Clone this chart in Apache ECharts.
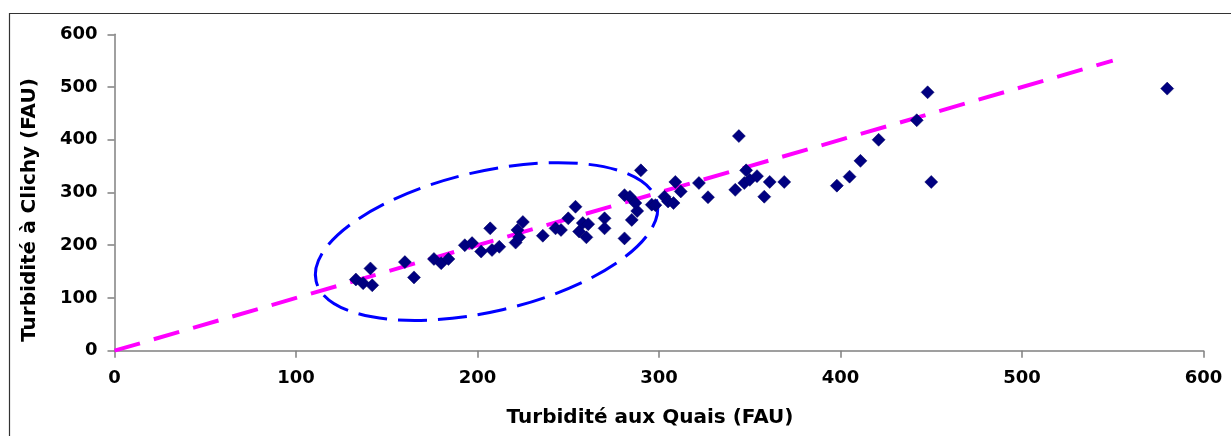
<!DOCTYPE html>
<html>
<head>
<meta charset="utf-8">
<script src="https://cdn.jsdelivr.net/npm/echarts@6/dist/echarts.min.js"></script>
<style>
html,body{margin:0;padding:0;background:#fff;}
#chart{width:1231px;height:436px;}
</style>
</head>
<body>
<div id="chart"></div>
<script>
// Turbidité aux Quais (FAU) vs Turbidité à Clichy (FAU)
const quais = [133,137,141,142,160,165,176,180,184,193,197,202,207,208,212,221,222,223,225,236,243,246,250,254,256,258,261,260,270,270,281,281,284,285,288,287,290,296,298,303,305,308,309,312,322,327,342,344,347,348,350,354,358,361,369,398,405,411,421,442,448,450,580];
const clichy = [135,128,156,124,168,139,174,166,174,200,204,188,232,191,197,205,229,215,244,218,232,229,251,273,226,242,240,215,251,232,213,295,292,248,265,280,342,277,276,292,283,280,320,302,318,291,305,407,318,342,324,331,292,320,320,313,330,360,400,437,490,320,497];
const trendLine = [[0,0],[550,550]];
const ellipseCenter = [[205,207]];
const axisTicks = [0,100,200,300,400,500,600];
const xTitle = 'Turbidité aux Quais (FAU)';
const yTitle = 'Turbidité à Clichy (FAU)';

const points = quais.map((x,i)=>[x, clichy[i]]);
const chart = echarts.init(document.getElementById('chart'), null, {renderer:'canvas'});
const labelFont = {fontFamily:'DejaVu Sans', fontWeight:'bold', fontSize:18, color:'#000'};
const axisColor = '#808080';
chart.setOption({
  animation:false,
  backgroundColor:'#fff',
  grid:{left:114.5, right:27.5, top:34.3, bottom:85.3, containLabel:false},
  xAxis:{type:'value', min:axisTicks[0], max:axisTicks[axisTicks.length-1], interval:100,
    axisLine:{show:true, onZero:false, lineStyle:{color:axisColor, width:1.5}},
    axisTick:{show:true, length:7, lineStyle:{color:axisColor, width:1.5}},
    axisLabel:Object.assign({margin:19}, labelFont),
    splitLine:{show:false}},
  yAxis:{type:'value', min:axisTicks[0], max:axisTicks[axisTicks.length-1], interval:100,
    axisLine:{show:true, onZero:false, lineStyle:{color:axisColor, width:1.5}},
    axisTick:{show:true, length:7, lineStyle:{color:axisColor, width:1.5}},
    axisLabel:Object.assign({margin:17}, labelFont),
    splitLine:{show:false}},
  graphic:[
    {type:'rect', shape:{x:9.5, y:13.5, width:1400, height:600}, style:{fill:'none', stroke:'#333', lineWidth:1.2}, silent:true},
    {type:'text', x:650, y:418, style:{text:xTitle, fontFamily:'DejaVu Sans', fontWeight:'bold', fontSize:20, fill:'#000', align:'center', verticalAlign:'middle'}},
    {type:'text', x:30, y:210, rotation:Math.PI/2, style:{text:yTitle, fontFamily:'DejaVu Sans', fontWeight:'bold', fontSize:20, fill:'#000', align:'center', verticalAlign:'middle'}}
  ],
  series:[
    {type:'custom', coordinateSystem:'cartesian2d', data:ellipseCenter, encode:{x:0,y:1}, z:1, silent:true,
      renderItem:function(params, api){
        const c = api.coord([api.value(0), api.value(1)]);
        return {type:'ellipse', x:c[0], y:c[1], rotation:0.228,
          shape:{cx:0, cy:0, rx:175, ry:70},
          style:{fill:'none', stroke:'#0000FF', lineWidth:3, lineDash:[29,11]}};
      }},
    {type:'line', data:trendLine, symbol:'none', z:2, silent:true,
      lineStyle:{color:'#FF00FF', width:4, type:[26.5,14.4]}},
    {type:'scatter', data:points, symbol:'diamond', symbolSize:13, z:3,
      itemStyle:{color:'#000080', opacity:1, borderColor:'#000060', borderWidth:0.5}}
  ]
});
</script>
</body>
</html>
